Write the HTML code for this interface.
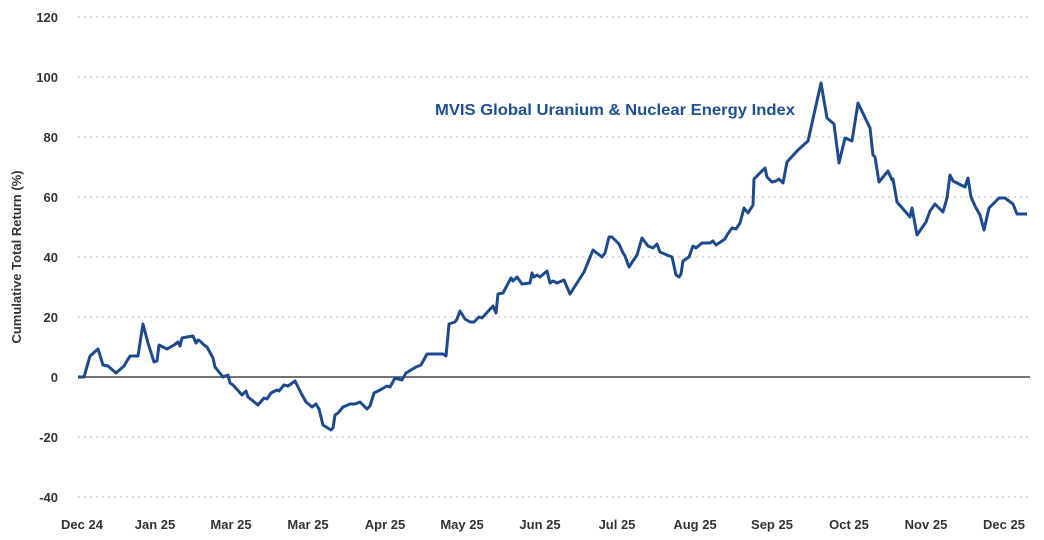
<!DOCTYPE html>
<html><head><meta charset="utf-8"><style>
body{margin:0;background:#fff;}
svg{display:block;font-family:"Liberation Sans",sans-serif;}
</style></head><body>
<svg width="1044" height="540" viewBox="0 0 1044 540">
<g stroke="#c8c8c8" stroke-width="1.3" stroke-dasharray="2,4">
<line x1="78" x2="1030" y1="17" y2="17"/><line x1="78" x2="1030" y1="77" y2="77"/>
<line x1="78" x2="1030" y1="137" y2="137"/><line x1="78" x2="1030" y1="197" y2="197"/>
<line x1="78" x2="1030" y1="257" y2="257"/><line x1="78" x2="1030" y1="317" y2="317"/>
<line x1="78" x2="1030" y1="437" y2="437"/><line x1="78" x2="1030" y1="497" y2="497"/>
</g>
<line x1="78" x2="1030" y1="377" y2="377" stroke="#444" stroke-width="1.5"/>
<g font-size="13" font-weight="bold" fill="#333" text-anchor="end">
<text x="58" y="22">120</text><text x="58" y="82">100</text><text x="58" y="142">80</text>
<text x="58" y="202">60</text><text x="58" y="262">40</text><text x="58" y="322">20</text>
<text x="58" y="382">0</text><text x="58" y="442">-20</text><text x="58" y="502">-40</text>
</g>
<g font-size="13" font-weight="bold" fill="#333" text-anchor="middle">
<text x="82" y="529">Dec 24</text><text x="155" y="529">Jan 25</text><text x="231" y="529">Mar 25</text>
<text x="308" y="529">Mar 25</text><text x="385" y="529">Apr 25</text><text x="462" y="529">May 25</text>
<text x="540" y="529">Jun 25</text><text x="617" y="529">Jul 25</text><text x="695" y="529">Aug 25</text>
<text x="772" y="529">Sep 25</text><text x="849" y="529">Oct 25</text><text x="926" y="529">Nov 25</text>
<text x="1004" y="529">Dec 25</text>
</g>
<text transform="translate(21,257) rotate(-90)" font-size="13" font-weight="bold" fill="#333" text-anchor="middle">Cumulative Total Return (%)</text>
<text x="435" y="115" font-size="15.5" font-weight="bold" fill="#1f4e96" textLength="360" lengthAdjust="spacingAndGlyphs">MVIS Global Uranium &amp; Nuclear Energy Index</text>
<polyline fill="none" stroke="#1d4a8f" stroke-width="3" stroke-linejoin="round" points="
78,377 84,377 90,356 98,349 103,365 108,366 116,373 124,366 130,356 138,356 142,330 143,324 148,343 154,362 157,361 159,345 167,349 174,345 178,342 180,346 182,338 187,337 193,336 196,343 198,340 200,341 204,345 207,347 213,358 215,367 223,377 228,375 230,383 233,385 242,395 246,391 248,397 258,405 264,398 267,399 271,393 277,390 279,391 284,385 288,386 295,381 301,393 306,402 312,407 316,404 319,409 323,425 331,430 333,428 335,415 338,413 343,407 350,404 355,404 360,402 367,409 370,406 374,393 380,390 387,386 390,387 395,378 402,380 406,373 416,367 421,365 427,354 443,354 446,356 449,324 455,322 457,319 460,311 465,319 470,322 474,322 479,317 482,318 493,306 496,313 498,294 503,293 511,278 513,281 517,277 522,284 530,283 532,273 534,277 537,275 540,277 547,271 550,283 553,281 557,283 564,280 570,294 584,272 593,250 602,257 605,253 609,237 612,237 619,244 623,253 625,256 629,267 637,255 642,238 648,246 653,248 657,244 660,252 667,255 672,257 676,275 679,277 681,274 683,261 689,257 693,246 696,248 702,243 710,243 713,241 716,245 725,239 727,235 732,228 736,229 740,223 744,208 748,213 753,205 754,179 765,168 767,177 772,182 776,181 779,179 783,183 787,162 798,150 808,141 821,83 827,118 834,124 839,163 845,138 852,141 858,103 870,128 873,155 875,157 879,182 888,171 892,180 893,179 897,202 910,217 912,208 917,235 926,222 930,211 935,204 943,212 947,198 950,175 953,181 965,187 968,178 971,197 975,206 980,215 984,230 989,208 999,198 1005,198 1013,204 1017,214 1027,214"/>
</svg>
</body></html>
